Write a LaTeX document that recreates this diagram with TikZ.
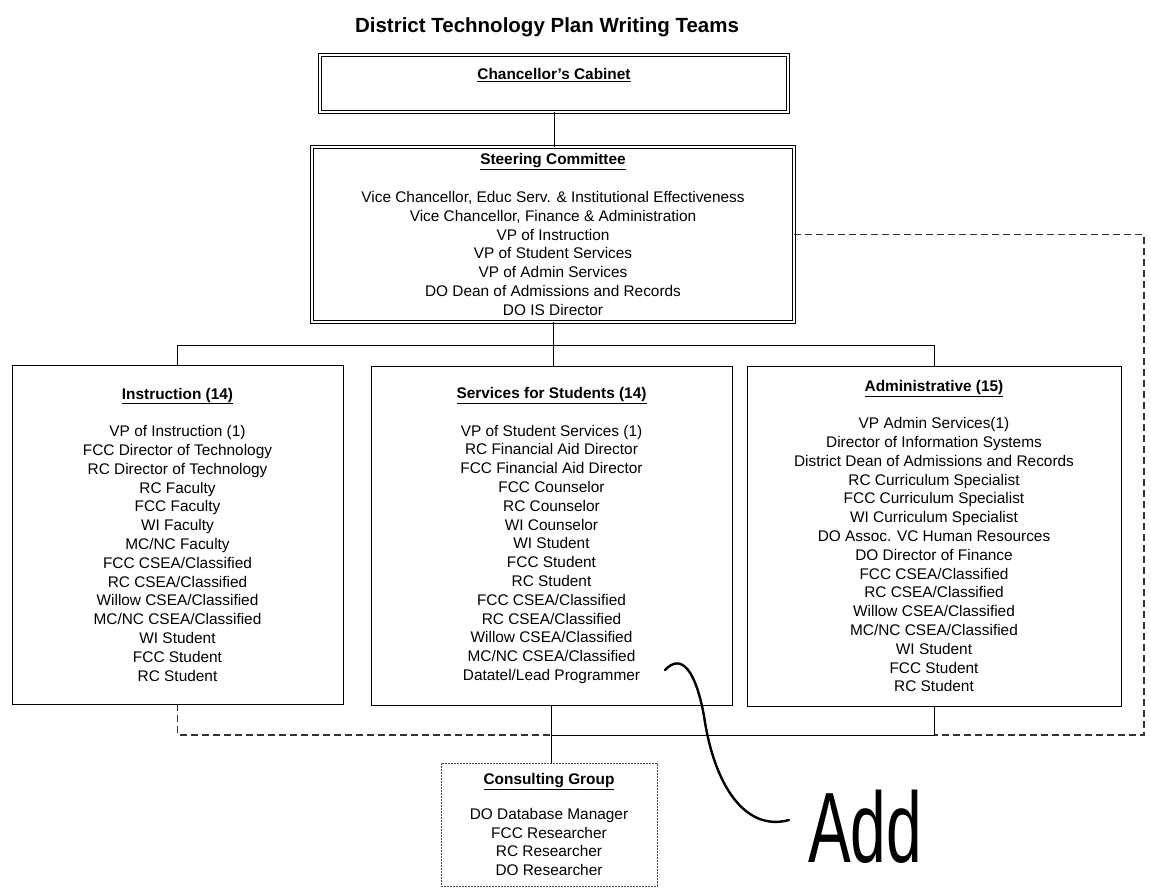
\documentclass[tikz,border=0pt]{standalone}
\usepackage{fontspec}
\setmainfont{Liberation Sans}
\usetikzlibrary{positioning,calc}

\tikzset{
  team/.style={draw, line width=0.9pt, align=center, inner sep=0pt,
    font=\fontsize{15.4}{18.8}\selectfont},
  council/.style={team, double, double distance=2.2pt, line width=0.8pt},
  outside/.style={team, line width=0.7pt, dash pattern=on 2pt off 1pt, draw=black!70},
  dashlink/.style={line width=1.1pt, dash pattern=on 7pt off 4pt, draw=black!80},
  solidlink/.style={line width=0.9pt},
  scrawl/.style={line width=2.4pt, line cap=round}
}
\newcommand{\head}[1]{\underline{\textbf{#1}}}

\begin{document}
\begin{tikzpicture}[x=1pt,y=-1pt]
  \useasboundingbox (0,0) rectangle (1151,888);

  \node (title) at (547,27) {\fontsize{20.5}{24}\selectfont\bfseries District Technology Plan Writing Teams};

  % top of the chart
  \node[council, minimum width=468pt, minimum height=57pt] (cab) at (554,83.5)
    {\head{Chancellor's Cabinet}\\ \mbox{}};
  \node[council, minimum width=482pt, minimum height=175pt] (steer) at (553,234.5)
    {\head{Steering Committee}\\[18.8pt]
     Vice Chancellor, Educ Serv. \& Institutional Effectiveness\\
     Vice Chancellor, Finance \& Administration\\
     VP of Instruction\\
     VP of Student Services\\
     VP of Admin Services\\
     DO Dean of Admissions and Records\\
     DO IS Director};

  % the three teams
  \node[team, minimum width=331pt, minimum height=339pt] (instr) at (177.5,534.5)
    {\head{Instruction (14)}\\[18.8pt]
     VP of Instruction (1)\\
     FCC Director of Technology\\
     RC Director of Technology\\
     RC Faculty\\
     FCC Faculty\\
     WI Faculty\\
     MC/NC Faculty\\
     FCC CSEA/Classified\\
     RC CSEA/Classified\\
     Willow CSEA/Classified\\
     MC/NC CSEA/Classified\\
     WI Student\\
     FCC Student\\
     RC Student};
  \node[team, minimum width=361pt, minimum height=339pt] (serv) at (551.5,535.5)
    {\head{Services for Students (14)}\\[18.8pt]
     VP of Student Services (1)\\
     RC Financial Aid Director\\
     FCC Financial Aid Director\\
     FCC Counselor\\
     RC Counselor\\
     WI Counselor\\
     WI Student\\
     FCC Student\\
     RC Student\\
     FCC CSEA/Classified\\
     RC CSEA/Classified\\
     Willow CSEA/Classified\\
     MC/NC CSEA/Classified\\
     Datatel/Lead Programmer};
  \node[team, minimum width=374pt, minimum height=340pt] (admin) at (934,536)
    {\head{Administrative (15)}\\[18.8pt]
     VP Admin Services(1)\\
     Director of Information Systems\\
     District Dean of Admissions and Records\\
     RC Curriculum Specialist\\
     FCC Curriculum Specialist\\
     WI Curriculum Specialist\\
     DO Assoc. VC Human Resources\\
     DO Director of Finance\\
     FCC CSEA/Classified\\
     RC CSEA/Classified\\
     Willow CSEA/Classified\\
     MC/NC CSEA/Classified\\
     WI Student\\
     FCC Student\\
     RC Student};

  \node[outside, minimum width=216pt, minimum height=123pt] (consult) at (549,824.5)
    {\head{Consulting Group}\\[16pt]
     DO Database Manager\\
     FCC Researcher\\
     RC Researcher\\
     DO Researcher};

  % connectors
  \coordinate (rim) at (1144,735);
  \draw[solidlink] (cab.south) -- (cab.south |- steer.north);
  \draw[solidlink] (steer.south) -- ++(0,23) coordinate (bus);
  \draw[solidlink] (instr.north) |- (bus) -| (admin.north);
  \draw[solidlink] (bus) -- (bus |- serv.north);
  \draw[dashlink] (instr.south) |- (serv.south |- rim);
  \draw[dashlink] (steer.east) -| (rim) -- (admin.south |- rim);
  \draw[solidlink] (serv.south) -- (serv.south |- consult.north);
  \draw[solidlink] (admin.south) |- (serv.south |- rim);

  % handwritten note
  \node[inner sep=0pt, anchor=base] (add) at (865,862) {\scalebox{0.64}[1]{\fontsize{100}{100}\selectfont Add}};
  \coordinate (mark) at (665,670);
  \draw[scrawl] (mark) .. controls (682,652) and (696,672) .. (704,716)
    .. controls (714,785) and (745,832) .. (789,820);
\end{tikzpicture}
\end{document}
